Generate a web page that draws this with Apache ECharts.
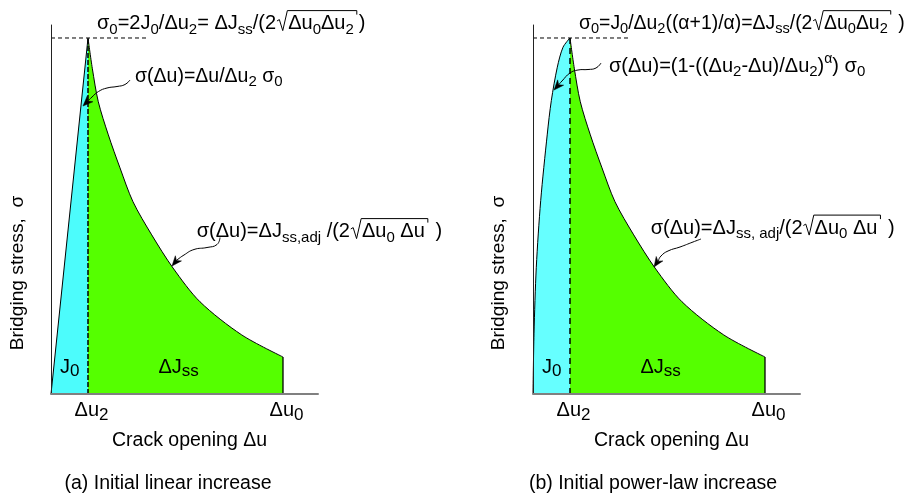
<!DOCTYPE html>
<html><head><meta charset="utf-8">
<script src="https://cdn.jsdelivr.net/npm/echarts@6/dist/echarts.min.js"></script>
<style>html,body{margin:0;padding:0;background:#fff}#c{width:908px;height:498px}</style>
</head><body><div id="c"></div>
<script>
// ---- Data (Δu in units of Δu2, σ in units of σ0) ----
const du2 = 1.0;                 // Δu2
const du0 = 6.27;                // Δu0
const xMax = 7.216;              // end of crack-opening axis
const yMax = 1.0365;             // top of stress axis
const sigma0 = 1.0;              // peak stress σ0
const sigma0GuideEnd = 2.58;     // extent of dashed σ0 guide
// (a) linear rise
const linearRiseX = [0, 1.0];
const linearRiseY = [0, 1.0];
// (b) power-law rise
const powerRiseX = [0, 0.027, 0.089, 0.208, 0.386, 0.495, 0.657, 0.811, 1.0];
const powerRiseY = [0, 0.169, 0.356, 0.543, 0.730, 0.824, 0.918, 0.974, 1.0];
// softening tail (same in both panels)
const decayX = [1.0, 1.116, 1.278, 1.549, 1.865, 2.216, 2.722, 3.297, 4.027, 5.154, 6.27];
const decayY = [1.0, 0.915, 0.821, 0.728, 0.635, 0.540, 0.447, 0.354, 0.259, 0.166, 0.104];
const tickValues = [du2, du0];
const tickLabels = [[['Δu','n'],['2','s']], [['Δu','n'],['0','s']]];
const xTitle = 'Crack opening Δu';
const yTitle = 'Bridging stress,  σ';
const captions = ['(a) Initial linear increase', '(b) Initial power-law increase'];

const FONT = '"Liberation Sans", Arial, Helvetica, sans-serif';
const cyanA = '#4cfcfc', cyanB = '#66ffff', green = '#55ff00';

const chart = echarts.init(document.getElementById('c'));
const pts = (xs, ys) => xs.map((x, i) => [x, ys[i]]);

const panels = [
  {left: 51, riseX: linearRiseX, riseY: linearRiseY, smoothRise: false, cyan: cyanA, dash: [5, 2]},
  {left: 533, riseX: powerRiseX, riseY: powerRiseY, smoothRise: 0.3, cyan: cyanB, dash: [6, 4]}
];

const grids = [], xAxes = [], yAxes = [], series = [];
panels.forEach((p, i) => {
  grids.push({left: p.left, top: 25, width: 267, height: 369, outerBoundsMode: 'none', containLabel: false});
  xAxes.push({type: 'value', gridIndex: i, min: 0, max: xMax, z: 10,
    axisLine: {show: true, lineStyle: {color: '#808080', width: 2}},
    axisTick: {show: false}, axisLabel: {show: false}, splitLine: {show: false}});
  yAxes.push({type: 'value', gridIndex: i, min: 0, max: yMax, z: 10,
    axisLine: {show: true, onZero: false, lineStyle: {color: '#222', width: 1}},
    axisTick: {show: false}, axisLabel: {show: false}, splitLine: {show: false}});
  const base = {type: 'line', xAxisIndex: i, yAxisIndex: i, symbol: 'none', silent: true, animation: false};
  series.push(Object.assign({}, base, {data: pts(p.riseX, p.riseY), smooth: p.smoothRise,
    lineStyle: {color: '#000', width: 1}, areaStyle: {color: p.cyan, opacity: 1}, z: 2}));
  series.push(Object.assign({}, base, {data: pts(decayX, decayY), smooth: 0.3,
    lineStyle: {color: '#000', width: 1}, areaStyle: {color: green, opacity: 1}, z: 3}));
  series.push(Object.assign({}, base, {data: [[du0, 0], [du0, decayY[decayY.length - 1]]],
    lineStyle: {color: '#000', width: 1.3}, z: 4}));
  series.push(Object.assign({}, base, {data: [[du2, 0], [du2, sigma0]],
    lineStyle: {color: '#000', width: 1.5, type: p.dash}, z: 5}));
  series.push(Object.assign({}, base, {data: [[0, sigma0], [sigma0GuideEnd, sigma0]],
    lineStyle: {color: '#000', width: 1, type: [4, 3]}, z: 5}));
});

chart.setOption({animation: false, grid: grids, xAxis: xAxes, yAxis: yAxes, series: series});

// ---- text layout helpers ----
const mctx = document.createElement('canvas').getContext('2d');
function fnt(sz) { return sz + 'px ' + FONT; }
function measure(t, sz) { mctx.font = fnt(sz); return mctx.measureText(t).width; }
function midOff(sz) {
  mctx.font = fnt(sz); mctx.textBaseline = 'middle';
  const m = mctx.measureText('H'); mctx.textBaseline = 'alphabetic';
  const d = m.actualBoundingBoxDescent;
  return (typeof d === 'number' && isFinite(d) && d > 0) ? d : 0.3465 * sz;
}
function textEl(t, x, yb, sz, align, rot) {
  const el = {type: 'text', silent: true, z: 100, x: x, y: yb - (rot ? 0 : midOff(sz)),
    style: {text: t, font: fnt(sz), fill: '#000', align: align || 'left', textAlign: align || 'left',
      verticalAlign: 'middle', textVerticalAlign: 'middle'}};
  if (rot) el.rotation = rot;
  return el;
}
function formula(parts, x0, yb, o) {
  o = Object.assign({size: 20, sub: 15, subDy: 4.5, sup: 14, supDy: -9, center: false}, o || {});
  const run = (x) => {
    const els = []; let cx = x; let rad = null;
    for (const [t, k] of parts) {
      if (k === 'r') {
        const s = o.size;
        rad = {top: yb - 0.92 * s, pts: [[cx + 0.04 * s, yb - 0.40 * s], [cx + 0.16 * s, yb - 0.47 * s],
          [cx + 0.33 * s, yb + 0.08 * s], [cx + 0.56 * s, yb - 0.92 * s]]};
        cx += 0.6 * s; continue;
      }
      if (k === 'R') {
        const xe = cx + 3;
        rad.pts.push([xe, rad.top], [xe, rad.top + 0.2 * o.size]);
        els.push({type: 'polyline', silent: true, z: 100, shape: {points: rad.pts},
          style: {stroke: '#000', lineWidth: 1, fill: null}});
        cx = xe + 2; continue;
      }
      const fs = k === 's' ? o.sub : k === 'p' ? o.sup : o.size;
      const dy = k === 's' ? o.subDy : k === 'p' ? o.supDy : 0;
      els.push(textEl(t, cx, yb + dy, fs));
      cx += measure(t, fs);
    }
    return {els: els, w: cx - x};
  };
  if (!o.center) return run(x0).els;
  const w = run(0).w;
  return run(x0 - w / 2).els;
}
function arrow(points) {
  const n = points.length, tip = points[n - 1], prev = points[n - 2];
  const dx = tip[0] - prev[0], dy = tip[1] - prev[1], L = Math.hypot(dx, dy);
  const ux = dx / L, uy = dy / L, hl = 10, hw = 4;
  const bx = tip[0] - ux * hl, by = tip[1] - uy * hl;
  const nx = tip[0] - ux * hl * 0.7, ny = tip[1] - uy * hl * 0.7;
  const line = points.slice(0, n - 1).concat([[nx, ny]]);
  return [
    {type: 'polyline', silent: true, z: 100, shape: {points: line, smooth: 0.5}, style: {stroke: '#000', lineWidth: 1, fill: null}},
    {type: 'polygon', silent: true, z: 101, shape: {points: [tip, [bx - uy * hw, by + ux * hw], [nx, ny], [bx + uy * hw, by - ux * hw]]},
      style: {fill: '#000', stroke: '#000', lineWidth: 0.5}}
  ];
}

let G = [];
// axis tick labels, titles, captions
panels.forEach((p, i) => {
  tickValues.forEach((v, j) => {
    const px = chart.convertToPixel({xAxisIndex: i}, v);
    G = G.concat(formula(tickLabels[j], px + 3.5, 416, {size: 20, sub: 17, subDy: 3.5, center: true}));
  });
  const cx = p.left + 133.5;
  G.push(textEl(xTitle, cx + 5, 446, 19.5, 'center'));
  G.push(textEl(captions[i], i === 0 ? 168 : 653, 489, 19.5, 'center'));
  G.push(textEl(yTitle, i === 0 ? 18 : 499, 273, 19.2, 'center', Math.PI / 2));
  // region labels
  G = G.concat(formula([['J', 'n'], ['0', 's']], p.left + 9, 373, {size: 20, sub: 17, subDy: 3}));
  G = G.concat(formula([['ΔJ', 'n'], ['ss', 's']], p.left + 107.5, 373, {size: 20, sub: 17, subDy: 3}));
});

// annotations panel (a)
G = G.concat(formula([['σ','n'],['0','s'],['=2J','n'],['0','s'],['/Δu','n'],['2','s'],['= ΔJ','n'],['ss','s'],['/(2','n'],['','r'],['Δu','n'],['0','s'],['Δu','n'],['2','s'],['','R'],[')','n']], 97, 29));
G = G.concat(formula([['σ(Δu)=Δu/Δu','n'],['2','s'],[' σ','n'],['0','s']], 135, 81.5, {size: 19.5}));
G = G.concat(formula([['σ(Δu)=ΔJ','n'],['ss,adj','s'],[' /(2','n'],['','r'],['Δu','n'],['0','s'],[' Δu','n'],['','R'],[' )','n']], 196.7, 237));
G = G.concat(arrow([[130,80],[125,84.5],[117,86.5],[107,88],[98.5,91.5],[92,97],[83,106]]));
G = G.concat(arrow([[220,237.5],[217,244.5],[207,247.5],[194,249.5],[184,255],[177,260],[172,266]]));
// annotations panel (b)
G = G.concat(formula([['σ','n'],['0','s'],['=J','n'],['0','s'],['/Δu','n'],['2','s'],['((α+1)/α)=ΔJ','n'],['ss','s'],['/(2','n'],['','r'],['Δu','n'],['0','s'],['Δu','n'],['2','s'],['','R'],[' )','n']], 579, 28.5, {size: 19.4, sub: 14.6}));
G = G.concat(formula([['σ(Δu)=(1-((Δu','n'],['2','s'],['-Δu)/Δu','n'],['2','s'],[')','n'],['α','p'],[') σ','n'],['0','s']], 609, 71.5));
G = G.concat(formula([['σ(Δu)=ΔJ','n'],['ss, adj','s'],['/(2','n'],['','r'],['Δu','n'],['0','s'],[' Δu','n'],['','R'],[' )','n']], 650.7, 233.5));
G = G.concat(arrow([[601,63],[596,68],[588,69.5],[578,70],[570,73],[562,81],[554,90]]));
G = G.concat(arrow([[701,239],[693,242],[680,247],[668,251],[661,256],[658,261],[654,267]]));

chart.setOption({graphic: {elements: G}});
</script></body></html>
